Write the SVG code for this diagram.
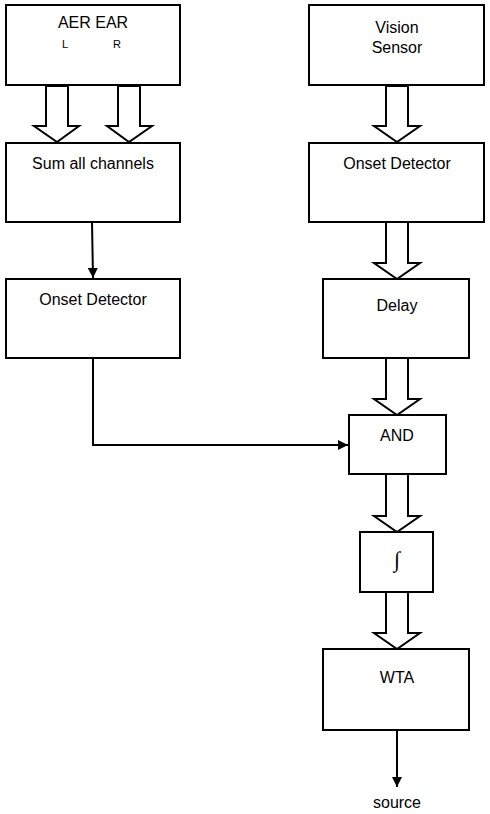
<svg xmlns="http://www.w3.org/2000/svg" width="490" height="814" viewBox="0 0 490 814">
<style>
.box{fill:#fff;stroke:#000;stroke-width:2}
.blk{fill:#fff;stroke:#000;stroke-width:2;stroke-linejoin:miter}
.ln{fill:none;stroke:#000;stroke-width:2}
text{font-family:"Liberation Sans",Arial,sans-serif;font-size:16px;fill:#000;text-anchor:middle}
.sm{font-size:11px}
</style>
<defs>
<marker id="ah" viewBox="0 0 10 10" refX="10" refY="5" markerWidth="5" markerHeight="5" orient="auto" markerUnits="strokeWidth">
<path d="M0,0 L10,5 L0,10 z" fill="#000"/>
</marker>
</defs>
<rect width="490" height="814" fill="#fff"/>
<g id="connectors">
<polygon class="blk" points="46,86 46,126 34,126 57,142 79,126 68,126 68,86"/>
<polygon class="blk" points="118,86 118,126 107,126 129,142 152,126 140,126 140,86"/>
<polygon class="blk" points="386,86 386,126 374,126 397,142 420,126 408,126 408,86"/>
<polygon class="blk" points="386,222 386,263 374,263 397,279 420,263 408,263 408,222"/>
<polygon class="blk" points="386,358 386,399 374,399 397,415 420,399 408,399 408,358"/>
<polygon class="blk" points="386,474 386,516 374,516 397,532 420,516 408,516 408,474"/>
<polygon class="blk" points="386,592 386,633 374,633 397,649 420,633 408,633 408,592"/>
<path class="ln" d="M92,222 L93,278" marker-end="url(#ah)"/>
<path class="ln" d="M93,358 L93,445 L348,445" marker-end="url(#ah)"/>
<path class="ln" d="M397,730 L397,787" marker-end="url(#ah)"/>
</g>
<g id="aer-ear">
<rect class="box" x="6" y="5" width="174" height="80"/>
<text x="93" y="28">AER EAR</text>
<text class="sm" x="65" y="48">L</text>
<text class="sm" x="117" y="48">R</text>
</g>
<g id="sum">
<rect class="box" x="6" y="143" width="174" height="79"/>
<text x="93" y="169">Sum all channels</text>
</g>
<g id="onset-left">
<rect class="box" x="6" y="279" width="174" height="79"/>
<text x="93" y="305">Onset Detector</text>
</g>
<g id="vision">
<rect class="box" x="309" y="5" width="175" height="80"/>
<text x="397" y="33">Vision</text>
<text x="397" y="53">Sensor</text>
</g>
<g id="onset-right">
<rect class="box" x="309" y="143" width="175" height="79"/>
<text x="397" y="169">Onset Detector</text>
</g>
<g id="delay">
<rect class="box" x="323" y="279" width="146" height="79"/>
<text x="397" y="311">Delay</text>
</g>
<g id="and">
<rect class="box" x="349" y="415" width="97" height="59"/>
<text x="397" y="441">AND</text>
</g>
<g id="integral">
<rect class="box" x="360" y="532" width="73" height="60"/>
<text x="397" y="567" style="font-size:22px;font-family:'Liberation Serif',serif">∫</text>
</g>
<g id="wta">
<rect class="box" x="323" y="649" width="146" height="81"/>
<text x="397" y="683">WTA</text>
</g>
<g id="source">
<text x="397" y="808">source</text>
</g>
</svg>
